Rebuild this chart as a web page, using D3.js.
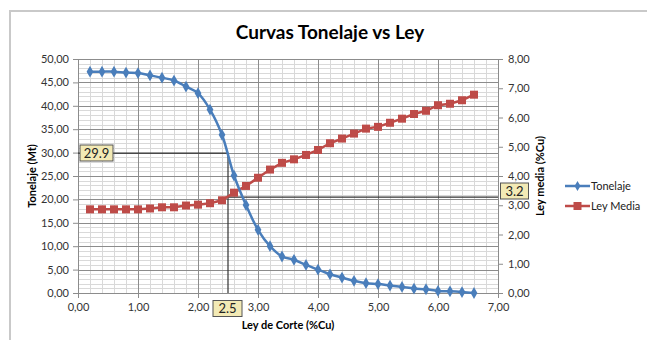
<!DOCTYPE html>
<html>
<head>
<meta charset="utf-8">
<script src="https://cdn.jsdelivr.net/npm/d3@7"></script>
<style>
  body { margin: 0; background: #fff; }
  svg text { font-family: Lato, "Open Sans", sans-serif; }
</style>
</head>
<body>
<div id="chart"></div>
<script>
// ley de corte (%Cu)
const leyCorte = [0.2, 0.4, 0.6, 0.8, 1.0, 1.2, 1.4, 1.6, 1.8, 2.0, 2.2, 2.4, 2.6, 2.8, 3.0, 3.2,
  3.4, 3.6, 3.8, 4.0, 4.2, 4.4, 4.6, 4.8, 5.0, 5.2, 5.4, 5.6, 5.8, 6.0, 6.2, 6.4, 6.6];
// tonelaje (Mt) - left axis
const tonelaje = [47.3, 47.3, 47.3, 47.1, 47.0, 46.5, 46.0, 45.4, 44.1, 42.7, 39.2, 33.8, 25.1, 18.8, 13.5, 10.0,
  7.8, 7.1, 6.0, 5.0, 4.0, 3.3, 2.6, 2.1, 1.9, 1.6, 1.3, 0.95, 0.8, 0.45, 0.35, 0.2, 0.0];
// ley media (%Cu) - right axis
const leyMedia = [2.86, 2.86, 2.86, 2.86, 2.86, 2.89, 2.93, 2.93, 2.99, 3.02, 3.07, 3.17, 3.43, 3.66, 3.94, 4.22,
  4.45, 4.57, 4.72, 4.89, 5.12, 5.28, 5.45, 5.62, 5.68, 5.82, 5.96, 6.12, 6.23, 6.42, 6.47, 6.59, 6.78];

// annotation: cut-off grade and the values read at it
const corteSel = 2.5;
const tonSel = 29.9;
const leySel = 3.28;
const tonLabel = "29.9", leyLabel = "3.2", corteLabel = "2.5";

const width = 647, height = 340;
const margin = {left: 78, right: 149, top: 59, bottom: 47};

const svg = d3.select("#chart").append("svg")
  .attr("width", width)
  .attr("height", height);

// chart frame
svg.append("path")
  .attr("d", `M10,${height} V11 H${width}`)
  .attr("fill", "none")
  .attr("stroke", "#c9c9c9")
  .attr("stroke-width", 2);

const x = d3.scaleLinear().domain([0, 7]).range([margin.left, width - margin.right]);
const y = d3.scaleLinear().domain([0, 50]).range([height - margin.bottom, margin.top]);
const y2 = d3.scaleLinear().domain([0, 8]).range([height - margin.bottom, margin.top]);

const fmt = d => d.toFixed(2).replace(".", ",");

// minor gridlines
const grid = svg.append("g");
grid.selectAll(".vmin").data(d3.range(0, 7.001, 0.2))
  .enter().append("line")
  .attr("x1", d => Math.round(x(d)) + 0.5).attr("x2", d => Math.round(x(d)) + 0.5)
  .attr("y1", y(0)).attr("y2", y(50))
  .attr("stroke", "#d9d9d9");
grid.selectAll(".hmin").data(d3.range(0, 51, 1))
  .enter().append("line")
  .attr("y1", d => Math.round(y(d)) + 0.5).attr("y2", d => Math.round(y(d)) + 0.5)
  .attr("x1", x(0)).attr("x2", x(7))
  .attr("stroke", "#d9d9d9");
// major gridlines
grid.selectAll(".vmaj").data(d3.range(1, 8, 1))
  .enter().append("line")
  .attr("x1", d => Math.round(x(d)) + 0.5).attr("x2", d => Math.round(x(d)) + 0.5)
  .attr("y1", y(0)).attr("y2", y(50))
  .attr("stroke", "#8c8c8c");
grid.selectAll(".hmaj").data(d3.range(5, 51, 5))
  .enter().append("line")
  .attr("y1", d => Math.round(y(d)) + 0.5).attr("y2", d => Math.round(y(d)) + 0.5)
  .attr("x1", x(0)).attr("x2", x(7))
  .attr("stroke", "#8c8c8c");

// axes
const styleAxis = g => {
  g.select(".domain").attr("stroke", "#8c8c8c");
  g.selectAll(".tick line").attr("stroke", "#8c8c8c");
  g.selectAll(".tick text").attr("fill", "#333").attr("font-size", 11);
};
svg.append("g")
  .attr("transform", `translate(0,${y(0)})`)
  .call(d3.axisBottom(x).tickValues(d3.range(0, 8, 1)).tickFormat(fmt).tickSizeOuter(0).tickSize(5).tickPadding(5))
  .call(styleAxis);
svg.append("g")
  .attr("transform", `translate(${x(0)},0)`)
  .call(d3.axisLeft(y).tickValues(d3.range(0, 51, 5)).tickFormat(fmt).tickSizeOuter(0).tickSize(5).tickPadding(4))
  .call(styleAxis);
svg.append("g")
  .attr("transform", `translate(${x(7)},0)`)
  .call(d3.axisRight(y2).tickValues(d3.range(0, 9, 1)).tickFormat(fmt).tickSizeOuter(0).tickSize(5).tickPadding(5))
  .call(styleAxis);

// annotation lines
const ann = svg.append("g").attr("stroke", "#333").attr("stroke-width", 1.2).attr("fill", "none");
ann.append("path")
  .attr("d", `M${x(corteSel)},${y(0)} V${y(tonSel)} H${x(0)}`);
ann.append("path")
  .attr("d", `M${x(corteSel)},${y2(leySel)} H${x(7)}`);

// series
const blue = "#4a7ebb", red = "#be4b48";
const pts = leyCorte.map((c, i) => ({c, t: tonelaje[i], l: leyMedia[i]}));

svg.append("path").datum(pts)
  .attr("fill", "none").attr("stroke", red).attr("stroke-width", 2.5)
  .attr("d", d3.line().x(d => x(d.c)).y(d => y2(d.l)));
svg.append("g").selectAll("rect").data(pts).enter().append("rect")
  .attr("x", d => x(d.c) - 4).attr("y", d => y2(d.l) - 4)
  .attr("width", 8).attr("height", 8).attr("fill", red);

svg.append("path").datum(pts)
  .attr("fill", "none").attr("stroke", blue).attr("stroke-width", 2.5)
  .attr("d", d3.line().curve(d3.curveCatmullRom).x(d => x(d.c)).y(d => y(d.t)));
const diamond = d3.symbol().type(d3.symbolDiamond).size(40);
svg.append("g").selectAll("path").data(pts).enter().append("path")
  .attr("d", diamond)
  .attr("transform", d => `translate(${x(d.c)},${y(d.t)})`)
  .attr("fill", blue);

// label boxes
function labelBox(cx, cy, w, h, txt) {
  const g = svg.append("g");
  g.append("rect")
    .attr("x", cx - w / 2).attr("y", cy - h / 2)
    .attr("width", w).attr("height", h)
    .attr("fill", "#f3eab5").attr("stroke", "#555").attr("stroke-width", 1);
  g.append("text")
    .attr("x", cx).attr("y", cy + 4.5)
    .attr("text-anchor", "middle")
    .attr("font-size", 13).attr("fill", "#222")
    .text(txt);
}
labelBox(96.5, 153, 33, 16, tonLabel);
labelBox(514.5, 191, 28, 16, leyLabel);
labelBox(227.5, 308.5, 29, 16, corteLabel);

// titles
svg.append("text")
  .attr("x", 330).attr("y", 39)
  .attr("text-anchor", "middle")
  .attr("font-size", 19).attr("font-weight", "bold").attr("fill", "#000")
  .text("Curvas Tonelaje vs Ley");
svg.append("text")
  .attr("x", x(3.5)).attr("y", 329)
  .attr("text-anchor", "middle")
  .attr("font-size", 11).attr("font-weight", "bold")
  .text("Ley de Corte (%Cu)");
svg.append("text")
  .attr("transform", `translate(36,${(y(0) + y(50)) / 2}) rotate(-90)`)
  .attr("text-anchor", "middle")
  .attr("font-size", 11).attr("font-weight", "bold")
  .text("Tonelaje  (Mt)");
svg.append("text")
  .attr("transform", `translate(544,${(y(0) + y(50)) / 2}) rotate(-90)`)
  .attr("text-anchor", "middle")
  .attr("font-size", 11).attr("font-weight", "bold")
  .text("Ley media (%Cu)");

// legend
const legend = [{name: "Tonelaje", color: blue, shape: "diamond"}, {name: "Ley Media", color: red, shape: "square"}];
const lg = svg.append("g").selectAll("g").data(legend).enter().append("g")
  .attr("transform", (d, i) => `translate(565,${186 + i * 20})`);
lg.append("line").attr("x1", 0).attr("x2", 25).attr("stroke", d => d.color).attr("stroke-width", 2.5);
lg.append("path")
  .attr("d", d => d.shape === "diamond"
    ? d3.symbol().type(d3.symbolDiamond).size(30)()
    : "M-4,-4H4V4H-4Z")
  .attr("transform", "translate(12.5,0)")
  .attr("fill", d => d.color);
lg.append("text").attr("x", 26).attr("y", 4)
  .attr("font-size", 11).attr("fill", "#222")
  .text(d => d.name);
</script>
</body>
</html>
